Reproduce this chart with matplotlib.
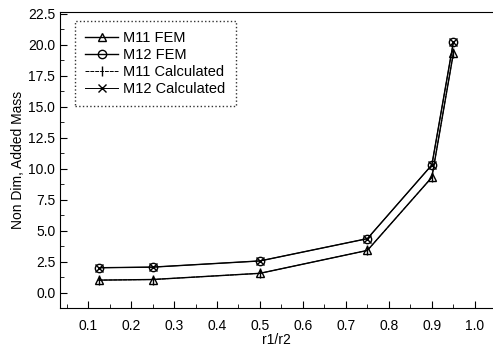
import numpy as np
import matplotlib.pyplot as plt
from matplotlib.ticker import MultipleLocator

plt.rcParams['font.family'] = ['Liberation Sans', 'DejaVu Sans']

# ratio r1/r2 and non-dimensional added mass
r_ratio = [0.125, 0.25, 0.5, 0.75, 0.9, 0.95]
m11_fem = [1.0, 1.05, 1.55, 3.4, 9.3, 19.3]
m12_fem = [2.0, 2.05, 2.55, 4.35, 10.3, 20.2]
m11_calc = [1.0, 1.05, 1.55, 3.4, 9.3, 19.3]
m12_calc = [2.0, 2.05, 2.55, 4.35, 10.3, 20.2]

fig = plt.figure(figsize=(4.93, 3.52), dpi=100)
ax = fig.add_axes([0.122, 0.125, 0.876, 0.841])

ax.plot(r_ratio, m11_fem, color='black', linewidth=1.0, marker='^', markersize=6,
        markerfacecolor='none', markeredgecolor='black', label='M11 FEM')
ax.plot(r_ratio, m12_fem, color='black', linewidth=1.0, marker='o', markersize=6,
        markerfacecolor='none', markeredgecolor='black', label='M12 FEM')
ax.plot(r_ratio, m11_calc, color='black', linewidth=0.7, linestyle=(0, (4, 1)), marker='|',
        markersize=7, label='M11 Calculated')
ax.plot(r_ratio, m12_calc, color='black', linewidth=0.7, marker='x', markersize=6,
        label='M12 Calculated')

ax.set_xlim(0.035, 1.04)
ax.set_ylim(-1.25, 22.65)
ax.xaxis.set_major_locator(MultipleLocator(0.1))
ax.xaxis.set_minor_locator(MultipleLocator(0.05))
ax.yaxis.set_major_locator(MultipleLocator(2.5))
ax.yaxis.set_minor_locator(MultipleLocator(1.25))
ax.xaxis.set_major_formatter(plt.FuncFormatter(lambda v, p: f'{v:.1f}'))
ax.yaxis.set_major_formatter(plt.FuncFormatter(lambda v, p: f'{v:.1f}'))
ax.tick_params(which='both', direction='in', labelsize=10, top=False, right=False)
ax.tick_params(which='major', length=5)
ax.tick_params(which='minor', length=3)
ax.tick_params(axis='x', pad=8)
ax.spines['right'].set_visible(False)

ax.set_xlabel('r1/r2', fontsize=10, labelpad=0)
ax.set_ylabel('Non Dim, Added Mass', fontsize=10, labelpad=2)

leg = ax.legend(loc='upper left', bbox_to_anchor=(0.035, 0.97), fontsize=10.5,
                frameon=True, fancybox=False, edgecolor='black',
                handlelength=2.2, borderpad=0.7, labelspacing=0.2, handletextpad=0.4,
                borderaxespad=0)
leg.get_frame().set_linestyle(':')
leg.get_frame().set_linewidth(1.0)

fig.savefig('out.png', dpi=100)
